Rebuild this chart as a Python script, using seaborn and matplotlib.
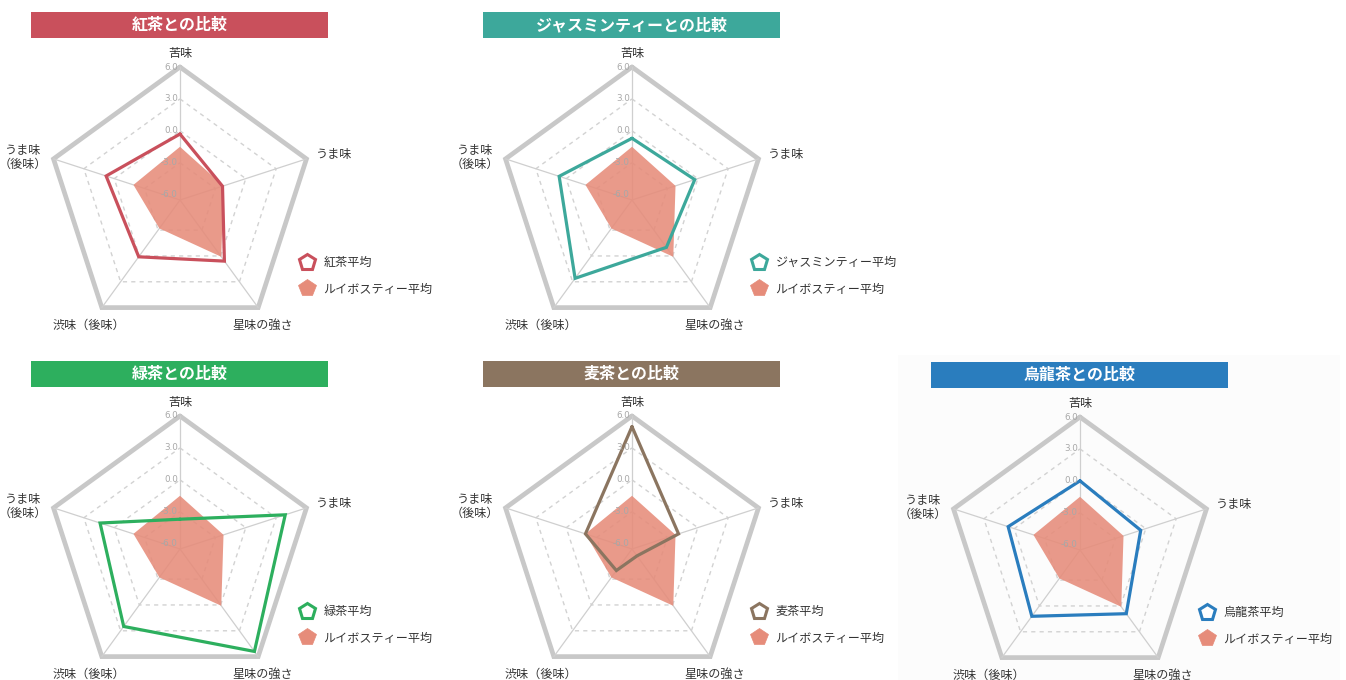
import numpy as np
import pandas as pd
import matplotlib
matplotlib.use("Agg")
import matplotlib.pyplot as plt
import seaborn as sns
from matplotlib.patches import Rectangle
from matplotlib.lines import Line2D

# ---------------- data ----------------
categories = ["苦味", "うま味", "星味の強さ", "渋味（後味）", "うま味（後味）"]
axis_labels = ["苦味", "うま味", "星味の強さ", "渋味（後味）", "うま味\n（後味）"]
tick_values = [6.0, 3.0, 0.0, -3.0, -6.0]
tick_labels = ["6.0", "3.0", "0.0", "-3.0", "-6.0"]

rooibos = [-1.5, -2.2, 0.1, -3.2, -1.9]
kocha = [-0.3, -2.3, 0.6, 0.1, 0.8]
jasmine = [-0.7, -0.3, -1.0, 2.6, 0.7]
ryokucha = [-3.7, 3.9, 5.4, 2.5, 1.4]
mugicha = [5.0, -1.9, -5.7, -4.0, -1.9]
oolong = [0.0, -0.5, 0.9, 1.2, 0.6]

tea_names = ["紅茶", "ジャスミンティー", "緑茶", "麦茶", "烏龍茶"]
tea_values = [kocha, jasmine, ryokucha, mugicha, oolong]
tea_colors = ["#C9505C", "#3DA89B", "#2DAF5E", "#8B7560", "#2A7DBE"]
rooibos_name = "ルイボスティー平均"
rooibos_color = "#E68C7A"

# ---------------- style ----------------
sns.set_theme(style="white")
plt.rcParams["font.family"] = ["Noto Sans CJK JP", "DejaVu Sans"]

W, H = 1346, 680
fig = plt.figure(figsize=(W / 100, H / 100), dpi=100)
fig.patch.set_facecolor("white")

# faint panel background behind the last chart
fig.patches.append(Rectangle((898 / W, 0), (1340 - 898) / W, (680 - 355) / H,
                             transform=fig.transFigure, facecolor="#FCFCFC",
                             edgecolor="none", zorder=-5))

RMIN, RMAX = -6.5, 6.0
R_PX = 133
centers = [(180, 200), (632, 200), (180, 549), (632, 549), (1080, 550)]

n = len(categories)
theta = np.arange(n) * 2 * np.pi / n
theta_c = np.append(theta, 2 * np.pi)


def closed(v):
    return list(v) + [v[0]]


for name, vals, col, (cx, cy) in zip(tea_names, tea_values, tea_colors, centers):
    ax = fig.add_axes([(cx - R_PX) / W, (H - cy - R_PX) / H, 2 * R_PX / W, 2 * R_PX / H],
                      projection="polar")
    ax.set_theta_offset(np.pi / 2)
    ax.set_theta_direction(-1)
    ax.set_ylim(RMIN, RMAX)
    ax.grid(False)
    ax.set_xticks([])
    ax.set_yticks([])
    ax.spines["polar"].set_visible(False)
    ax.set_facecolor("none")

    # grid: dashed inner rings, thick outer ring, spokes
    for lvl in tick_values[1:4]:
        ax.plot(theta_c, [lvl] * (n + 1), color="#D2D2D2", lw=1.0,
                ls=(0, (3, 3)), zorder=1, clip_on=False)
    ax.plot(theta_c, [tick_values[0]] * (n + 1), color="#C8C8C8", lw=3.4,
            zorder=1, clip_on=False, solid_joinstyle="miter")
    for t in theta:
        ax.plot([t, t], [RMIN, RMAX], color="#CFCFCF", lw=0.9, zorder=1, clip_on=False)

    # rooibos fill
    ax.fill(theta_c, closed(rooibos), color=rooibos_color, alpha=0.88, lw=0, zorder=2)

    # comparison tea line
    df = pd.DataFrame({"theta": theta_c, "value": closed(vals)})
    sns.lineplot(data=df, x="theta", y="value", sort=False, estimator=None,
                 color=col, lw=2.3, ax=ax, zorder=3)
    for ln in ax.lines[-1:]:
        ln.set_solid_joinstyle("miter")
        ln.set_clip_on(False)
    ax.set_xlabel("")
    ax.set_ylabel("")

    # tick labels along the top axis
    for v, lbl in zip(tick_values, tick_labels):
        ax.annotate(lbl, xy=(0, v), xytext=(-1.5, 0), textcoords="offset points",
                    ha="right", va="center", fontsize=6.3, color="#A8A8A8", zorder=5,
                    family=["DejaVu Sans"])

    # axis labels
    offs = [((0, 5), "center", "bottom"),
            ((6.5, 3), "left", "center"),
            ((3, -8), "center", "top"),
            ((-9, -8), "center", "top"),
            ((-4.5, 1), "right", "center")]
    for t, lbl, (off, ha, va) in zip(theta, axis_labels, offs):
        ax.annotate(lbl, xy=(t, RMAX), xytext=off, textcoords="offset points",
                    ha=ha, va=va, fontsize=8.7, color="#333333",
                    multialignment="center", linespacing=1.15)

    # legend
    handles = [
        Line2D([], [], marker="p", ls="none", markersize=12, markerfacecolor="white",
               markeredgecolor=col, markeredgewidth=2.2),
        Line2D([], [], marker="p", ls="none", markersize=13, markerfacecolor=rooibos_color,
               markeredgecolor=rooibos_color, markeredgewidth=0.5),
    ]
    ax.legend(handles, [name + "平均", rooibos_name], loc="center left",
              bbox_to_anchor=(0.946, 0.5 - 76 / 266), frameon=False, borderpad=0,
              borderaxespad=0, handlelength=1.4, handletextpad=0.65,
              labelspacing=1.1, fontsize=8.7, labelcolor="#333333")

    # title banner
    bx0, bx1 = cx - 149, cx + 148
    by0, by1 = cy - 188, cy - 162
    fig.patches.append(Rectangle((bx0 / W, (H - by1) / H), (bx1 - bx0) / W, (by1 - by0) / H,
                                 transform=fig.transFigure, facecolor=col,
                                 edgecolor="none", zorder=1))
    fig.text((bx0 + bx1) / 2 / W, (H - (by0 + by1) / 2) / H, name + "との比較",
             ha="center", va="center", color="white", fontsize=11.5,
             fontweight="bold", zorder=2)

fig.savefig("out.png", dpi=100, facecolor="white")
